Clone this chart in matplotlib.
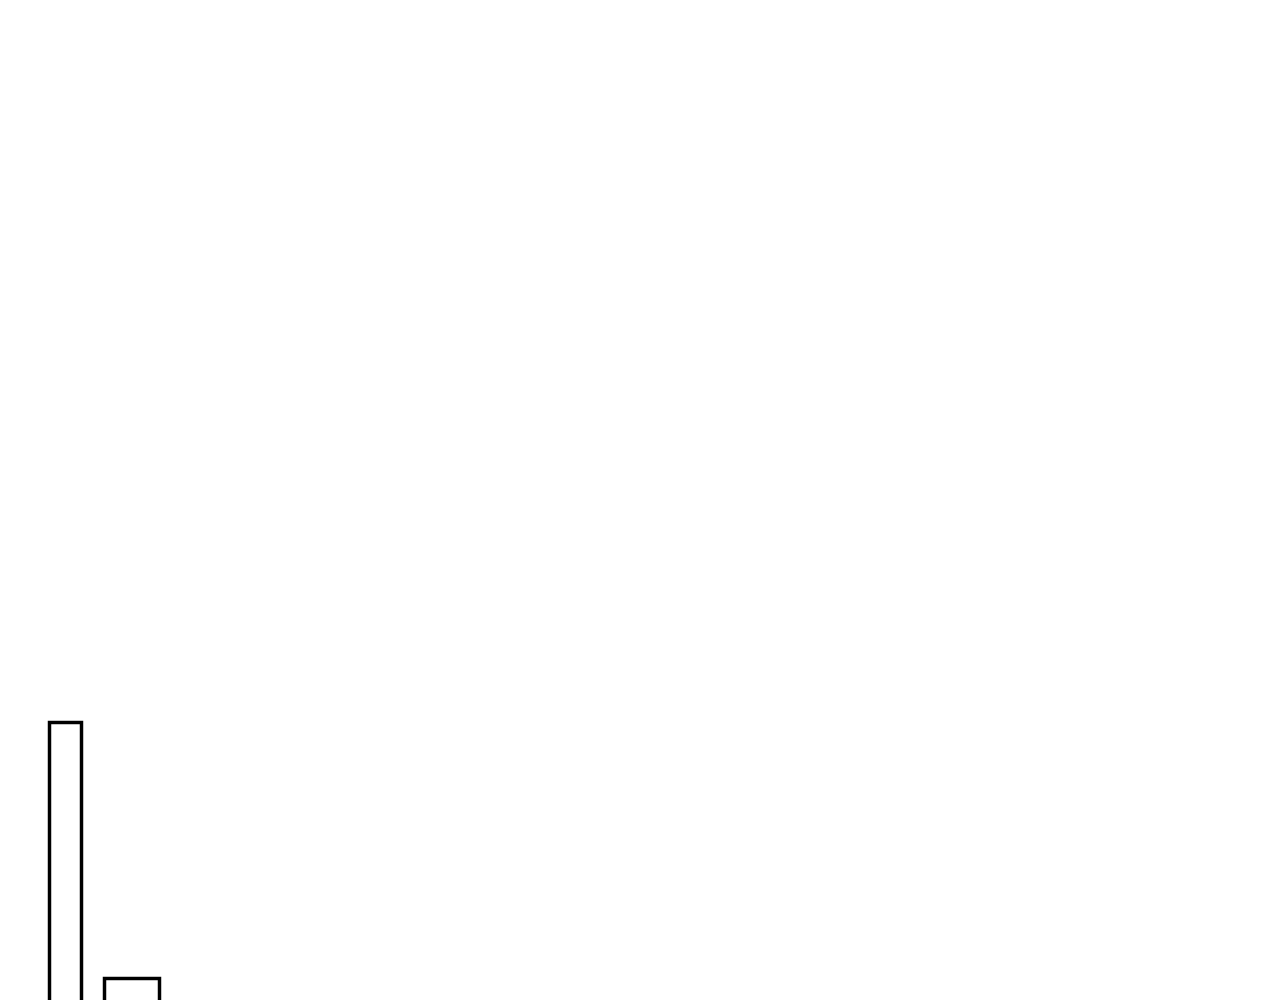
import matplotlib
matplotlib.use("Agg")
import matplotlib.pyplot as plt

# bin edges (left, right) and bar heights
bin_left = [2.45, 5.2]
bin_right = [4.03, 7.95]
heights = [64.0, 5.5]

fig = plt.figure(figsize=(12.8, 10), dpi=100)
fig.patch.set_facecolor("white")
ax = fig.add_axes([0, 0, 1, 1])

widths = [r - l for l, r in zip(bin_left, bin_right)]
ax.bar(bin_left, heights, width=widths, align="edge",
       facecolor="white", edgecolor="black", linewidth=2.5)

# the view is cropped: the bars run off the bottom of the frame
ax.set_xlim(0, 64)
ax.set_ylim(0.5, 229)
ax.axis("off")

fig.savefig("out.png", dpi=100, facecolor="white")
